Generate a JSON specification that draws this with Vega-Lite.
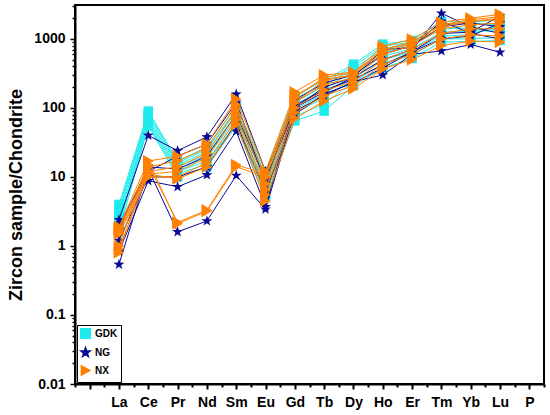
{
  "$schema": "https://vega.github.io/schema/vega-lite/v6.json",
  "width": 469,
  "height": 379,
  "autosize": "none",
  "padding": {"left": 75, "top": 5, "right": 6, "bottom": 31},
  "config": {
    "font": "Liberation Sans",
    "view": {"stroke": "black", "strokeWidth": 2}
  },
  "data": {
    "values": [
      {"g":"GDK","s":"G1","e":"La","v":4.0},{"g":"GDK","s":"G1","e":"Ce","v":90},{"g":"GDK","s":"G1","e":"Pr","v":17},{"g":"GDK","s":"G1","e":"Nd","v":27},{"g":"GDK","s":"G1","e":"Sm","v":106},{"g":"GDK","s":"G1","e":"Eu","v":12},{"g":"GDK","s":"G1","e":"Gd","v":150},{"g":"GDK","s":"G1","e":"Tb","v":250},{"g":"GDK","s":"G1","e":"Dy","v":430},{"g":"GDK","s":"G1","e":"Ho","v":840},{"g":"GDK","s":"G1","e":"Er","v":950},{"g":"GDK","s":"G1","e":"Tm","v":1800},{"g":"GDK","s":"G1","e":"Yb","v":1750},{"g":"GDK","s":"G1","e":"Lu","v":1900},
      {"g":"GDK","s":"G2","e":"La","v":3.6},{"g":"GDK","s":"G2","e":"Ce","v":85},{"g":"GDK","s":"G2","e":"Pr","v":16},{"g":"GDK","s":"G2","e":"Nd","v":25},{"g":"GDK","s":"G2","e":"Sm","v":95},{"g":"GDK","s":"G2","e":"Eu","v":10.5},{"g":"GDK","s":"G2","e":"Gd","v":135},{"g":"GDK","s":"G2","e":"Tb","v":230},{"g":"GDK","s":"G2","e":"Dy","v":400},{"g":"GDK","s":"G2","e":"Ho","v":780},{"g":"GDK","s":"G2","e":"Er","v":900},{"g":"GDK","s":"G2","e":"Tm","v":1650},{"g":"GDK","s":"G2","e":"Yb","v":1700},{"g":"GDK","s":"G2","e":"Lu","v":1600},
      {"g":"GDK","s":"G3","e":"La","v":3.2},{"g":"GDK","s":"G3","e":"Ce","v":78},{"g":"GDK","s":"G3","e":"Pr","v":15},{"g":"GDK","s":"G3","e":"Nd","v":23},{"g":"GDK","s":"G3","e":"Sm","v":88},{"g":"GDK","s":"G3","e":"Eu","v":9.5},{"g":"GDK","s":"G3","e":"Gd","v":120},{"g":"GDK","s":"G3","e":"Tb","v":210},{"g":"GDK","s":"G3","e":"Dy","v":370},{"g":"GDK","s":"G3","e":"Ho","v":700},{"g":"GDK","s":"G3","e":"Er","v":850},{"g":"GDK","s":"G3","e":"Tm","v":1700},{"g":"GDK","s":"G3","e":"Yb","v":1300},{"g":"GDK","s":"G3","e":"Lu","v":1500},
      {"g":"GDK","s":"G4","e":"La","v":2.9},{"g":"GDK","s":"G4","e":"Ce","v":72},{"g":"GDK","s":"G4","e":"Pr","v":14},{"g":"GDK","s":"G4","e":"Nd","v":21},{"g":"GDK","s":"G4","e":"Sm","v":80},{"g":"GDK","s":"G4","e":"Eu","v":8.5},{"g":"GDK","s":"G4","e":"Gd","v":110},{"g":"GDK","s":"G4","e":"Tb","v":190},{"g":"GDK","s":"G4","e":"Dy","v":340},{"g":"GDK","s":"G4","e":"Ho","v":640},{"g":"GDK","s":"G4","e":"Er","v":800},{"g":"GDK","s":"G4","e":"Tm","v":1400},{"g":"GDK","s":"G4","e":"Yb","v":1450},{"g":"GDK","s":"G4","e":"Lu","v":1350},
      {"g":"GDK","s":"G5","e":"La","v":2.5},{"g":"GDK","s":"G5","e":"Ce","v":66},{"g":"GDK","s":"G5","e":"Pr","v":13},{"g":"GDK","s":"G5","e":"Nd","v":19},{"g":"GDK","s":"G5","e":"Sm","v":72},{"g":"GDK","s":"G5","e":"Eu","v":7.5},{"g":"GDK","s":"G5","e":"Gd","v":95},{"g":"GDK","s":"G5","e":"Tb","v":160},{"g":"GDK","s":"G5","e":"Dy","v":300},{"g":"GDK","s":"G5","e":"Ho","v":560},{"g":"GDK","s":"G5","e":"Er","v":720},{"g":"GDK","s":"G5","e":"Tm","v":1250},{"g":"GDK","s":"G5","e":"Yb","v":1300},{"g":"GDK","s":"G5","e":"Lu","v":1300},
      {"g":"GDK","s":"G6","e":"La","v":2.2},{"g":"GDK","s":"G6","e":"Ce","v":62},{"g":"GDK","s":"G6","e":"Pr","v":12},{"g":"GDK","s":"G6","e":"Nd","v":17},{"g":"GDK","s":"G6","e":"Sm","v":65},{"g":"GDK","s":"G6","e":"Eu","v":6.5},{"g":"GDK","s":"G6","e":"Gd","v":85},{"g":"GDK","s":"G6","e":"Tb","v":140},{"g":"GDK","s":"G6","e":"Dy","v":270},{"g":"GDK","s":"G6","e":"Ho","v":500},{"g":"GDK","s":"G6","e":"Er","v":650},{"g":"GDK","s":"G6","e":"Tm","v":1100},{"g":"GDK","s":"G6","e":"Yb","v":1150},{"g":"GDK","s":"G6","e":"Lu","v":1600},
      {"g":"GDK","s":"G7","e":"La","v":1.9},{"g":"GDK","s":"G7","e":"Ce","v":58},{"g":"GDK","s":"G7","e":"Pr","v":11},{"g":"GDK","s":"G7","e":"Nd","v":15.5},{"g":"GDK","s":"G7","e":"Sm","v":60},{"g":"GDK","s":"G7","e":"Eu","v":5.5},{"g":"GDK","s":"G7","e":"Gd","v":75},{"g":"GDK","s":"G7","e":"Tb","v":115},{"g":"GDK","s":"G7","e":"Dy","v":240},{"g":"GDK","s":"G7","e":"Ho","v":430},{"g":"GDK","s":"G7","e":"Er","v":580},{"g":"GDK","s":"G7","e":"Tm","v":1000},{"g":"GDK","s":"G7","e":"Yb","v":1000},{"g":"GDK","s":"G7","e":"Lu","v":1050},
      {"g":"GDK","s":"G8","e":"La","v":1.6},{"g":"GDK","s":"G8","e":"Ce","v":55},{"g":"GDK","s":"G8","e":"Pr","v":10},{"g":"GDK","s":"G8","e":"Nd","v":14},{"g":"GDK","s":"G8","e":"Sm","v":55},{"g":"GDK","s":"G8","e":"Eu","v":5},{"g":"GDK","s":"G8","e":"Gd","v":65},{"g":"GDK","s":"G8","e":"Tb","v":90},{"g":"GDK","s":"G8","e":"Dy","v":210},{"g":"GDK","s":"G8","e":"Ho","v":380},{"g":"GDK","s":"G8","e":"Er","v":520},{"g":"GDK","s":"G8","e":"Tm","v":900},{"g":"GDK","s":"G8","e":"Yb","v":920},{"g":"GDK","s":"G8","e":"Lu","v":950},
      {"g":"NG","s":"N1","e":"La","v":2.4},{"g":"NG","s":"N1","e":"Ce","v":40},{"g":"NG","s":"N1","e":"Pr","v":24},{"g":"NG","s":"N1","e":"Nd","v":38},{"g":"NG","s":"N1","e":"Sm","v":158},{"g":"NG","s":"N1","e":"Eu","v":12},{"g":"NG","s":"N1","e":"Gd","v":100},{"g":"NG","s":"N1","e":"Tb","v":200},{"g":"NG","s":"N1","e":"Dy","v":280},{"g":"NG","s":"N1","e":"Ho","v":500},{"g":"NG","s":"N1","e":"Er","v":700},{"g":"NG","s":"N1","e":"Tm","v":2350},{"g":"NG","s":"N1","e":"Yb","v":1500},{"g":"NG","s":"N1","e":"Lu","v":1200},
      {"g":"NG","s":"N2","e":"La","v":0.54},{"g":"NG","s":"N2","e":"Ce","v":13},{"g":"NG","s":"N2","e":"Pr","v":1.6},{"g":"NG","s":"N2","e":"Nd","v":2.3},{"g":"NG","s":"N2","e":"Sm","v":10.5},{"g":"NG","s":"N2","e":"Eu","v":3.4},{"g":"NG","s":"N2","e":"Gd","v":90},{"g":"NG","s":"N2","e":"Tb","v":150},{"g":"NG","s":"N2","e":"Dy","v":240},{"g":"NG","s":"N2","e":"Ho","v":300},{"g":"NG","s":"N2","e":"Er","v":600},{"g":"NG","s":"N2","e":"Tm","v":670},{"g":"NG","s":"N2","e":"Yb","v":830},{"g":"NG","s":"N2","e":"Lu","v":640},
      {"g":"NG","s":"N3","e":"La","v":0.83},{"g":"NG","s":"N3","e":"Ce","v":8.8},{"g":"NG","s":"N3","e":"Pr","v":7.2},{"g":"NG","s":"N3","e":"Nd","v":10.7},{"g":"NG","s":"N3","e":"Sm","v":46},{"g":"NG","s":"N3","e":"Eu","v":3.7},{"g":"NG","s":"N3","e":"Gd","v":110},{"g":"NG","s":"N3","e":"Tb","v":180},{"g":"NG","s":"N3","e":"Dy","v":260},{"g":"NG","s":"N3","e":"Ho","v":420},{"g":"NG","s":"N3","e":"Er","v":650},{"g":"NG","s":"N3","e":"Tm","v":1200},{"g":"NG","s":"N3","e":"Yb","v":1250},{"g":"NG","s":"N3","e":"Lu","v":2150},
      {"g":"NG","s":"N4","e":"La","v":2.0},{"g":"NG","s":"N4","e":"Ce","v":12},{"g":"NG","s":"N4","e":"Pr","v":20},{"g":"NG","s":"N4","e":"Nd","v":30},{"g":"NG","s":"N4","e":"Sm","v":120},{"g":"NG","s":"N4","e":"Eu","v":8},{"g":"NG","s":"N4","e":"Gd","v":130},{"g":"NG","s":"N4","e":"Tb","v":230},{"g":"NG","s":"N4","e":"Dy","v":300},{"g":"NG","s":"N4","e":"Ho","v":600},{"g":"NG","s":"N4","e":"Er","v":800},{"g":"NG","s":"N4","e":"Tm","v":1500},{"g":"NG","s":"N4","e":"Yb","v":1700},{"g":"NG","s":"N4","e":"Lu","v":1500},
      {"g":"NG","s":"N5","e":"La","v":1.2},{"g":"NG","s":"N5","e":"Ce","v":10},{"g":"NG","s":"N5","e":"Pr","v":10},{"g":"NG","s":"N5","e":"Nd","v":14},{"g":"NG","s":"N5","e":"Sm","v":60},{"g":"NG","s":"N5","e":"Eu","v":6},{"g":"NG","s":"N5","e":"Gd","v":80},{"g":"NG","s":"N5","e":"Tb","v":160},{"g":"NG","s":"N5","e":"Dy","v":230},{"g":"NG","s":"N5","e":"Ho","v":380},{"g":"NG","s":"N5","e":"Er","v":650},{"g":"NG","s":"N5","e":"Tm","v":1000},{"g":"NG","s":"N5","e":"Yb","v":1100},{"g":"NG","s":"N5","e":"Lu","v":1700},
      {"g":"NG","s":"N6","e":"La","v":1.8},{"g":"NG","s":"N6","e":"Ce","v":14},{"g":"NG","s":"N6","e":"Pr","v":13},{"g":"NG","s":"N6","e":"Nd","v":20},{"g":"NG","s":"N6","e":"Sm","v":80},{"g":"NG","s":"N6","e":"Eu","v":9},{"g":"NG","s":"N6","e":"Gd","v":100},{"g":"NG","s":"N6","e":"Tb","v":170},{"g":"NG","s":"N6","e":"Dy","v":280},{"g":"NG","s":"N6","e":"Ho","v":700},{"g":"NG","s":"N6","e":"Er","v":750},{"g":"NG","s":"N6","e":"Tm","v":1800},{"g":"NG","s":"N6","e":"Yb","v":1200},{"g":"NG","s":"N6","e":"Lu","v":1000},
      {"g":"NX","s":"X1","e":"La","v":0.8},{"g":"NX","s":"X1","e":"Ce","v":15},{"g":"NX","s":"X1","e":"Pr","v":2.2},{"g":"NX","s":"X1","e":"Nd","v":3.3},{"g":"NX","s":"X1","e":"Sm","v":15},{"g":"NX","s":"X1","e":"Eu","v":11},{"g":"NX","s":"X1","e":"Gd","v":140},{"g":"NX","s":"X1","e":"Tb","v":280},{"g":"NX","s":"X1","e":"Dy","v":320},{"g":"NX","s":"X1","e":"Ho","v":700},{"g":"NX","s":"X1","e":"Er","v":900},{"g":"NX","s":"X1","e":"Tm","v":1600},{"g":"NX","s":"X1","e":"Yb","v":1900},{"g":"NX","s":"X1","e":"Lu","v":2100},
      {"g":"NX","s":"X2","e":"La","v":1.0},{"g":"NX","s":"X2","e":"Ce","v":17},{"g":"NX","s":"X2","e":"Pr","v":2.1},{"g":"NX","s":"X2","e":"Nd","v":3.2},{"g":"NX","s":"X2","e":"Sm","v":14},{"g":"NX","s":"X2","e":"Eu","v":10},{"g":"NX","s":"X2","e":"Gd","v":120},{"g":"NX","s":"X2","e":"Tb","v":250},{"g":"NX","s":"X2","e":"Dy","v":300},{"g":"NX","s":"X2","e":"Ho","v":650},{"g":"NX","s":"X2","e":"Er","v":850},{"g":"NX","s":"X2","e":"Tm","v":1500},{"g":"NX","s":"X2","e":"Yb","v":1800},{"g":"NX","s":"X2","e":"Lu","v":1900},
      {"g":"NX","s":"X3","e":"La","v":1.9},{"g":"NX","s":"X3","e":"Ce","v":17},{"g":"NX","s":"X3","e":"Pr","v":20},{"g":"NX","s":"X3","e":"Nd","v":30},{"g":"NX","s":"X3","e":"Sm","v":135},{"g":"NX","s":"X3","e":"Eu","v":12},{"g":"NX","s":"X3","e":"Gd","v":170},{"g":"NX","s":"X3","e":"Tb","v":300},{"g":"NX","s":"X3","e":"Dy","v":330},{"g":"NX","s":"X3","e":"Ho","v":780},{"g":"NX","s":"X3","e":"Er","v":990},{"g":"NX","s":"X3","e":"Tm","v":1740},{"g":"NX","s":"X3","e":"Yb","v":2000},{"g":"NX","s":"X3","e":"Lu","v":2270},
      {"g":"NX","s":"X4","e":"La","v":1.8},{"g":"NX","s":"X4","e":"Ce","v":14},{"g":"NX","s":"X4","e":"Pr","v":17},{"g":"NX","s":"X4","e":"Nd","v":26},{"g":"NX","s":"X4","e":"Sm","v":110},{"g":"NX","s":"X4","e":"Eu","v":10},{"g":"NX","s":"X4","e":"Gd","v":150},{"g":"NX","s":"X4","e":"Tb","v":260},{"g":"NX","s":"X4","e":"Dy","v":300},{"g":"NX","s":"X4","e":"Ho","v":700},{"g":"NX","s":"X4","e":"Er","v":900},{"g":"NX","s":"X4","e":"Tm","v":1600},{"g":"NX","s":"X4","e":"Yb","v":1800},{"g":"NX","s":"X4","e":"Lu","v":2000},
      {"g":"NX","s":"X5","e":"La","v":1.7},{"g":"NX","s":"X5","e":"Ce","v":12},{"g":"NX","s":"X5","e":"Pr","v":14},{"g":"NX","s":"X5","e":"Nd","v":22},{"g":"NX","s":"X5","e":"Sm","v":95},{"g":"NX","s":"X5","e":"Eu","v":8},{"g":"NX","s":"X5","e":"Gd","v":120},{"g":"NX","s":"X5","e":"Tb","v":220},{"g":"NX","s":"X5","e":"Dy","v":270},{"g":"NX","s":"X5","e":"Ho","v":600},{"g":"NX","s":"X5","e":"Er","v":800},{"g":"NX","s":"X5","e":"Tm","v":1400},{"g":"NX","s":"X5","e":"Yb","v":1600},{"g":"NX","s":"X5","e":"Lu","v":1700},
      {"g":"NX","s":"X6","e":"La","v":1.6},{"g":"NX","s":"X6","e":"Ce","v":11},{"g":"NX","s":"X6","e":"Pr","v":12},{"g":"NX","s":"X6","e":"Nd","v":19},{"g":"NX","s":"X6","e":"Sm","v":80},{"g":"NX","s":"X6","e":"Eu","v":6.5},{"g":"NX","s":"X6","e":"Gd","v":100},{"g":"NX","s":"X6","e":"Tb","v":180},{"g":"NX","s":"X6","e":"Dy","v":240},{"g":"NX","s":"X6","e":"Ho","v":500},{"g":"NX","s":"X6","e":"Er","v":700},{"g":"NX","s":"X6","e":"Tm","v":1200},{"g":"NX","s":"X6","e":"Yb","v":1400},{"g":"NX","s":"X6","e":"Lu","v":1400},
      {"g":"NX","s":"X7","e":"La","v":1.5},{"g":"NX","s":"X7","e":"Ce","v":10},{"g":"NX","s":"X7","e":"Pr","v":10},{"g":"NX","s":"X7","e":"Nd","v":16},{"g":"NX","s":"X7","e":"Sm","v":68},{"g":"NX","s":"X7","e":"Eu","v":5.5},{"g":"NX","s":"X7","e":"Gd","v":85},{"g":"NX","s":"X7","e":"Tb","v":150},{"g":"NX","s":"X7","e":"Dy","v":210},{"g":"NX","s":"X7","e":"Ho","v":430},{"g":"NX","s":"X7","e":"Er","v":600},{"g":"NX","s":"X7","e":"Tm","v":1000},{"g":"NX","s":"X7","e":"Yb","v":1150},{"g":"NX","s":"X7","e":"Lu","v":1100},
      {"g":"NX","s":"X8","e":"La","v":0.9},{"g":"NX","s":"X8","e":"Ce","v":11},{"g":"NX","s":"X8","e":"Pr","v":9.4},{"g":"NX","s":"X8","e":"Nd","v":14},{"g":"NX","s":"X8","e":"Sm","v":58},{"g":"NX","s":"X8","e":"Eu","v":4.5},{"g":"NX","s":"X8","e":"Gd","v":70},{"g":"NX","s":"X8","e":"Tb","v":126},{"g":"NX","s":"X8","e":"Dy","v":190},{"g":"NX","s":"X8","e":"Ho","v":370},{"g":"NX","s":"X8","e":"Er","v":500},{"g":"NX","s":"X8","e":"Tm","v":800},{"g":"NX","s":"X8","e":"Yb","v":930},{"g":"NX","s":"X8","e":"Lu","v":900}
    ]
  },
  "encoding": {
    "x": {
      "field": "e",
      "type": "ordinal",
      "scale": {
        "type": "point",
        "padding": 0,
        "domain": ["m0", " ", "m1", "La", "m2", "Ce", "m3", "Pr", "m4", "Nd", "m5", "Sm", "m6", "Eu", "m7", "Gd", "m8", "Tb", "m9", "Dy", "m10", "Ho", "m11", "Er", "m12", "Tm", "m13", "Yb", "m14", "Lu", "m15", "P", "m16"]
      },
      "axis": {
        "title": null,
        "labelAngle": 0,
        "labelExpr": "indexof(['La','Ce','Pr','Nd','Sm','Eu','Gd','Tb','Dy','Ho','Er','Tm','Yb','Lu','P'], datum.value) >= 0 ? datum.value : ''",
        "labelFont": "Liberation Sans",
        "labelFontWeight": "bold",
        "labelFontSize": 14,
        "labelColor": "black",
        "labelPadding": 6,
        "labelOverlap": false,
        "tickColor": "black",
        "tickWidth": 2,
        "tickSize": {"condition": {"test": "substring(datum.value, 0, 1) == 'm'", "value": 3}, "value": 5},
        "domainColor": "black",
        "domainWidth": 2,
        "grid": false
      }
    },
    "y": {
      "field": "v",
      "type": "quantitative",
      "scale": {"type": "log", "domain": [0.01, 3100], "nice": false},
      "axis": {
        "title": "Zircon sample/Chondrite",
        "titleFont": "Liberation Sans",
        "titleFontSize": 18,
        "titleFontWeight": "bold",
        "titleColor": "black",
        "titlePadding": 8,
        "values": [0.01,0.02,0.03,0.04,0.05,0.06,0.07,0.08,0.09,0.1,0.2,0.3,0.4,0.5,0.6,0.7,0.8,0.9,1,2,3,4,5,6,7,8,9,10,20,30,40,50,60,70,80,90,100,200,300,400,500,600,700,800,900,1000,2000,3000],
        "format": "~g",
        "labelExpr": "indexof([0.01,0.1,1,10,100,1000], datum.value) >= 0 ? datum.label : ''",
        "labelFont": "Liberation Sans",
        "labelFontWeight": "bold",
        "labelFontSize": 14,
        "labelColor": "black",
        "labelPadding": 5,
        "labelOverlap": false,
        "tickColor": "black",
        "tickWidth": 1.5,
        "tickSize": {"condition": {"test": "indexof([0.01,0.1,1,10,100,1000], datum.value) >= 0", "value": 5}, "value": 3},
        "domainColor": "black",
        "domainWidth": 2,
        "grid": false
      }
    },
    "color": {
      "field": "g",
      "type": "nominal",
      "scale": {"domain": ["GDK", "NG", "NX"], "range": ["#1EEBEB", "#0A0A96", "#FF8000"]},
      "legend": {
        "title": null,
        "orient": "bottom-left",
        "offset": 2,
        "strokeColor": "black",
        "fillColor": "white",
        "padding": 3,
        "labelFont": "Liberation Sans",
        "labelFontWeight": "bold",
        "labelFontSize": 10,
        "labelColor": "black",
        "symbolSize": 90,
        "rowPadding": 2
      }
    }
  },
  "layer": [
    {
      "transform": [{"filter": "datum.g == 'GDK'"}],
      "layer": [
        {"mark": {"type": "line", "strokeWidth": 1}, "encoding": {"detail": {"field": "s"}, "order": {"value": null}}},
        {"mark": {"type": "point", "filled": true, "opacity": 1, "size": 90}, "encoding": {"shape": {"field": "g", "type": "nominal", "scale": {"domain": ["GDK", "NG", "NX"], "range": ["square", "M0,-1L0.235,-0.324L0.951,-0.309L0.38,0.124L0.588,0.809L0,0.4L-0.588,0.809L-0.38,0.124L-0.951,-0.309L-0.235,-0.324Z", "triangle-right"]}}}}
      ]
    },
    {
      "transform": [{"filter": "datum.g == 'NG'"}],
      "layer": [
        {"mark": {"type": "line", "strokeWidth": 1}, "encoding": {"detail": {"field": "s"}, "order": {"value": null}}},
        {"mark": {"type": "point", "filled": true, "opacity": 1, "size": 130}, "encoding": {"shape": {"field": "g", "type": "nominal"}}}
      ]
    },
    {
      "transform": [{"filter": "datum.g == 'NX'"}],
      "layer": [
        {"mark": {"type": "line", "strokeWidth": 1}, "encoding": {"detail": {"field": "s"}, "order": {"value": null}}},
        {"mark": {"type": "point", "filled": true, "opacity": 1, "size": 150}, "encoding": {"shape": {"field": "g", "type": "nominal"}}}
      ]
    }
  ]
}
